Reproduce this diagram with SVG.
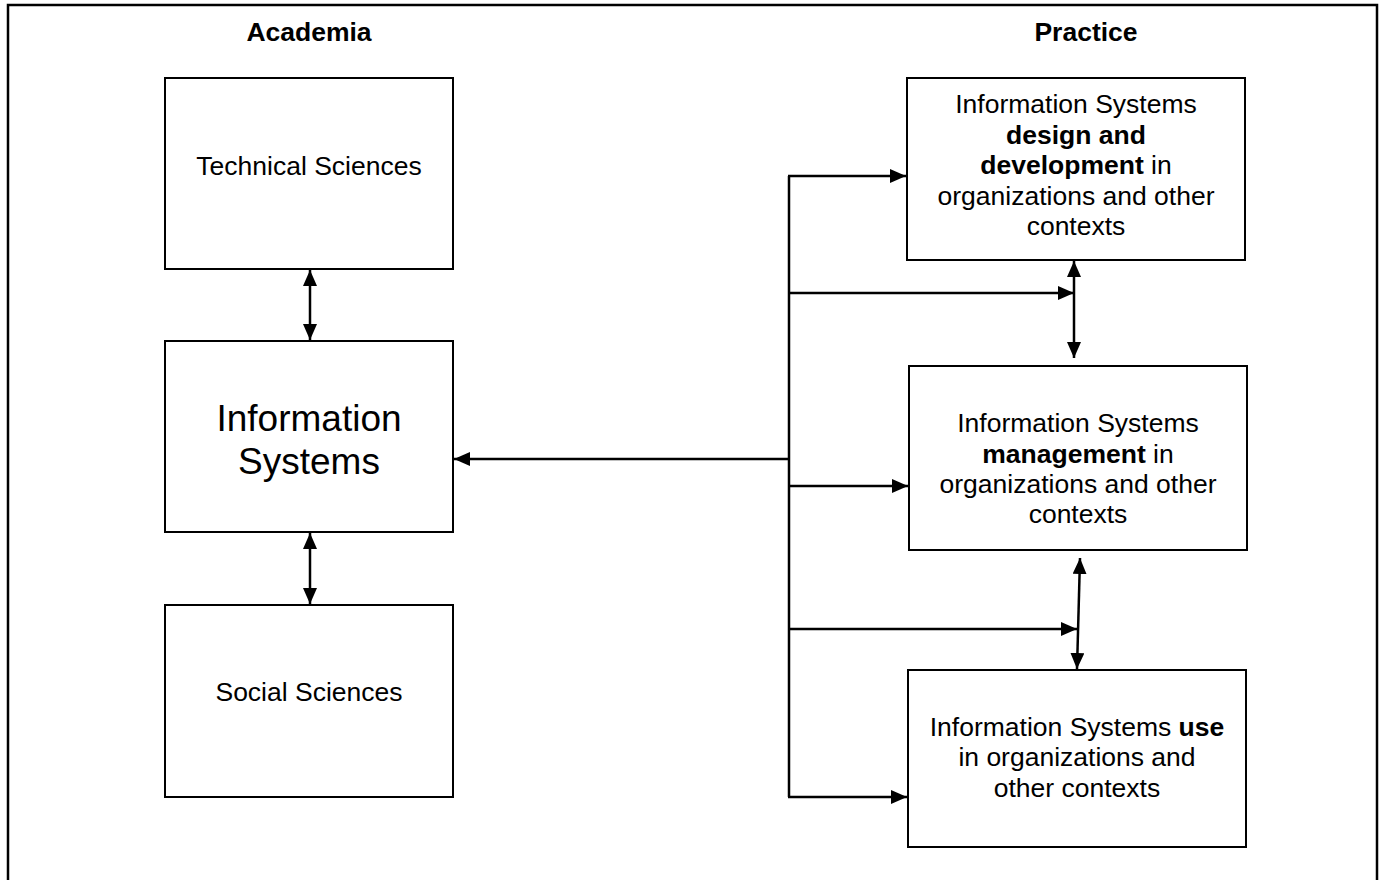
<svg xmlns="http://www.w3.org/2000/svg" width="1385" height="880" viewBox="0 0 1385 880">
<defs>
<marker id="ah" markerUnits="userSpaceOnUse" markerWidth="16" markerHeight="14" viewBox="0 0 16 14" refX="16" refY="7" orient="auto-start-reverse">
<path d="M0,0 L16,7 L0,14 Z" fill="#000"/>
</marker>
</defs>
<style>
.box{fill:#fff;stroke:#000;stroke-width:2}
.t{font-family:"Liberation Sans",Arial,sans-serif;font-size:26.5px;text-anchor:middle;fill:#000}
.h{font-weight:bold}
.big{font-size:37px}
.c{fill:none;stroke:#000;stroke-width:2.5}
</style>
<rect x="8" y="5" width="1369" height="900" fill="none" stroke="#000" stroke-width="2.5"/>
<text class="t h" x="309" y="41">Academia</text>
<text class="t h" x="1086" y="41">Practice</text>
<g id="technical">
<rect class="box" x="165" y="78" width="288" height="191"/>
<text class="t" x="309" y="175">Technical Sciences</text>
</g>
<g id="is">
<rect class="box" x="165" y="341" width="288" height="191"/>
<text class="t big" x="309" y="431">Information</text>
<text class="t big" x="309" y="474">Systems</text>
</g>
<g id="social">
<rect class="box" x="165" y="605" width="288" height="192"/>
<text class="t" x="309" y="701">Social Sciences</text>
</g>
<g id="design">
<rect class="box" x="907" y="78" width="338" height="182"/>
<text class="t" x="1076" y="113">Information Systems</text>
<text class="t h" x="1076" y="144">design and</text>
<text class="t" x="1076" y="174"><tspan class="h">development</tspan> in</text>
<text class="t" x="1076" y="205">organizations and other</text>
<text class="t" x="1076" y="235">contexts</text>
</g>
<g id="management">
<rect class="box" x="909" y="366" width="338" height="184"/>
<text class="t" x="1078" y="432">Information Systems</text>
<text class="t" x="1078" y="463"><tspan class="h">management</tspan> in</text>
<text class="t" x="1078" y="493">organizations and other</text>
<text class="t" x="1078" y="523">contexts</text>
</g>
<g id="use">
<rect class="box" x="908" y="670" width="338" height="177"/>
<text class="t" x="1077" y="736">Information Systems <tspan class="h">use</tspan></text>
<text class="t" x="1077" y="766">in organizations and</text>
<text class="t" x="1077" y="797">other contexts</text>
</g>
<g id="connectors">
<line class="c" x1="789" y1="176" x2="789" y2="797"/>
<line class="c" x1="788" y1="176" x2="906" y2="176" marker-end="url(#ah)"/>
<line class="c" x1="789" y1="293" x2="1074" y2="293" marker-end="url(#ah)"/>
<line class="c" x1="789" y1="459" x2="454" y2="459" marker-end="url(#ah)"/>
<line class="c" x1="789" y1="486" x2="908" y2="486" marker-end="url(#ah)"/>
<line class="c" x1="789" y1="629" x2="1077" y2="629" marker-end="url(#ah)"/>
<line class="c" x1="788" y1="797" x2="907" y2="797" marker-end="url(#ah)"/>
<line class="c" x1="310" y1="270" x2="310" y2="340" marker-start="url(#ah)" marker-end="url(#ah)"/>
<line class="c" x1="310" y1="533" x2="310" y2="604" marker-start="url(#ah)" marker-end="url(#ah)"/>
<line class="c" x1="1074" y1="261" x2="1074" y2="358" marker-start="url(#ah)" marker-end="url(#ah)"/>
<line class="c" x1="1080" y1="558" x2="1077" y2="669" marker-start="url(#ah)" marker-end="url(#ah)"/>
</g>
</svg>
